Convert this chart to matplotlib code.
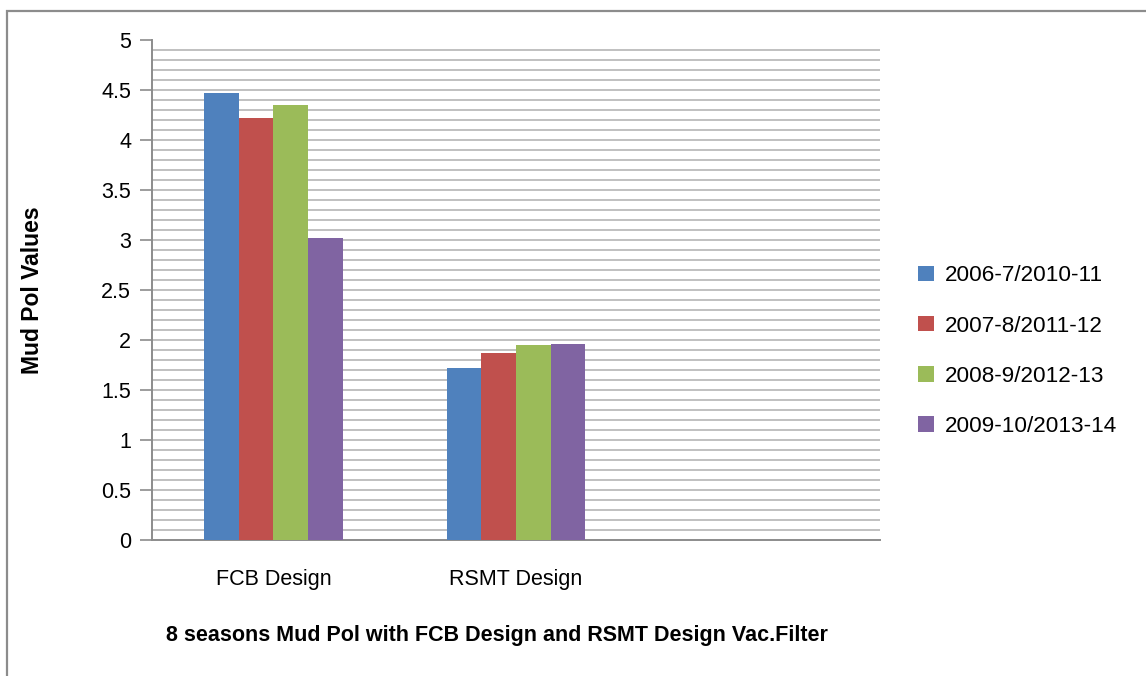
import matplotlib.pyplot as plt
import matplotlib.patches as mpatches
import numpy as np

# data
categories = ["FCB Design", "RSMT Design", ""]
seasons = ["2006-7/2010-11", "2007-8/2011-12", "2008-9/2012-13", "2009-10/2013-14"]
s2006 = [4.47, 1.72, np.nan]
s2007 = [4.22, 1.87, np.nan]
s2008 = [4.35, 1.95, np.nan]
s2009 = [3.02, 1.96, np.nan]
colors = ["#4F81BD", "#C0504D", "#9BBB59", "#8064A2"]
yticks = [0, 0.5, 1, 1.5, 2, 2.5, 3, 3.5, 4, 4.5, 5]

plt.rcParams['font.family'] = ['Liberation Sans', 'DejaVu Sans']

W, H = 1146, 676
fig = plt.figure(figsize=(W / 100, H / 100), dpi=100)
ax = fig.add_axes([152 / W, (H - 540) / H, (880 - 152) / W, 500 / H])

# outer chart border (left and top visible)
fig.patches.append(mpatches.Rectangle((7 / W, -0.1), 1.2, 1.1 - 11 / H, transform=fig.transFigure,
                                      fill=False, edgecolor="#8C8C8C", linewidth=1.6))

x = np.arange(len(categories)) + 0.5
group = 1 / 1.75
bw = group / 4
series = [s2006, s2007, s2008, s2009]
for i, vals in enumerate(series):
    ax.bar(x - group / 2 + bw * (i + 0.5), vals, bw, color=colors[i], label=seasons[i], zorder=3)

# gridlines every 0.1 (none at the top)
ax.hlines(np.arange(1, 50) / 10, 0, 3, colors="#B5B5B5", linewidth=1.2, zorder=1)

ax.set_xlim(0, 3)
ax.set_ylim(0, 5)
ax.set_yticks(yticks)
ax.set_yticklabels([f"{v:g}" for v in yticks], fontsize=15.5)
ax.set_xticks(x[:2])
ax.set_xticklabels(categories[:2], fontsize=15.5)
ax.tick_params(axis='x', length=0, pad=21)
ax.tick_params(axis='y', length=9, width=1.2, color="#8C8C8C", pad=6)
for s in ["top", "right"]:
    ax.spines[s].set_visible(False)
for s in ["left", "bottom"]:
    ax.spines[s].set_color("#8C8C8C")
    ax.spines[s].set_linewidth(1.4)

fig.text(33 / W, 1 - 290 / H, "Mud Pol Values", rotation=90, ha='center', va='center',
         fontsize=16.5, fontweight='bold')
fig.text(497 / W, 1 - 635 / H, "8 seasons Mud Pol with FCB Design and RSMT Design Vac.Filter",
         ha='center', va='center', fontsize=15.5, fontweight='bold')

fig.legend(loc='upper left', bbox_to_anchor=(898 / W, 1 - 245 / H), frameon=False,
           fontsize=16.2, handlelength=0.68, handleheight=0.68, handletextpad=0.5, labelspacing=1.3)

fig.savefig("out.png", dpi=100)
